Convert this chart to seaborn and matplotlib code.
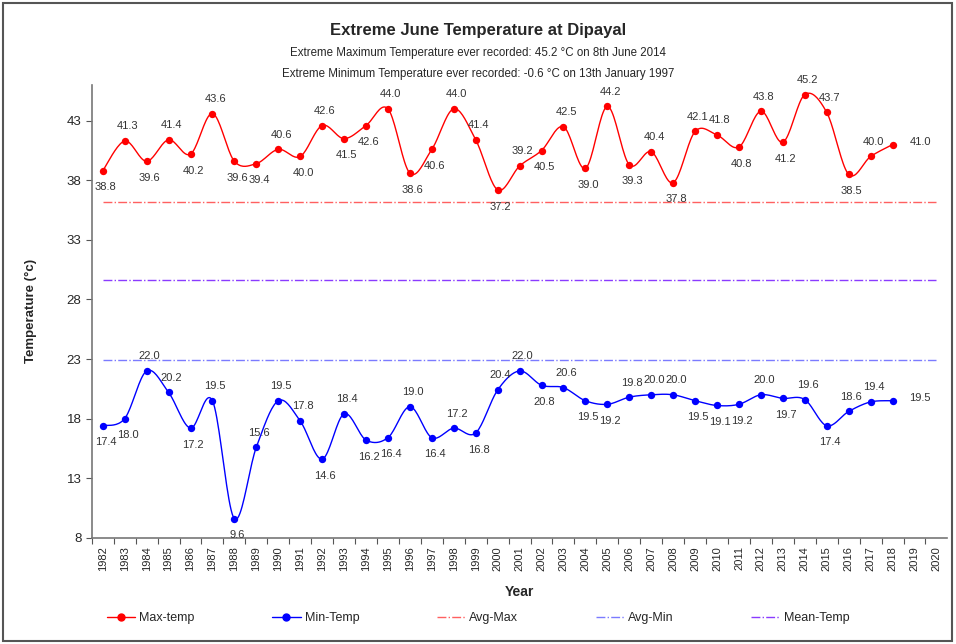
import numpy as np
import matplotlib
matplotlib.use("Agg")
import matplotlib.pyplot as plt
import seaborn as sns
from matplotlib.lines import Line2D
from matplotlib.patches import Rectangle

# Data
years = list(range(1982, 2019))
all_years = list(range(1982, 2021))
max_temp = [38.8, 41.3, 39.6, 41.4, 40.2, 43.6, 39.6, 39.4, 40.6, 40.0,
            42.6, 41.5, 42.6, 44.0, 38.6, 40.6, 44.0, 41.4, 37.2, 39.2,
            40.5, 42.5, 39.0, 44.2, 39.3, 40.4, 37.8, 42.1, 41.8, 40.8,
            43.8, 41.2, 45.2, 43.7, 38.5, 40.0, 41.0]
min_temp = [17.4, 18.0, 22.0, 20.2, 17.2, 19.5, 9.6, 15.6, 19.5, 17.8,
            14.6, 18.4, 16.2, 16.4, 19.0, 16.4, 17.2, 16.8, 20.4, 22.0,
            20.8, 20.6, 19.5, 19.2, 19.8, 20.0, 20.0, 19.5, 19.1, 19.2,
            20.0, 19.7, 19.6, 17.4, 18.6, 19.4, 19.5]
avg_max = 36.2
avg_min = 22.9
mean_temp = 29.6
yticks = [8, 13, 18, 23, 28, 33, 38, 43]

sns.set_theme(style="white")
plt.rcParams["font.family"] = ["Liberation Sans", "DejaVu Sans"]


def smooth(x, y, n=20):
    # Catmull-Rom style curve like Excel's smoothed line
    x = np.asarray(x, float)
    y = np.asarray(y, float)
    px = np.concatenate([[x[0]], x, [x[-1]]])
    py = np.concatenate([[y[0]], y, [y[-1]]])
    xs, ys = [], []
    t = np.linspace(0, 1, n, endpoint=False)
    for i in range(1, len(px) - 2):
        p0, p1, p2, p3 = py[i - 1], py[i], py[i + 1], py[i + 2]
        q0, q1, q2, q3 = px[i - 1], px[i], px[i + 1], px[i + 2]
        c1y, c2y = p1 + (p2 - p0) / 6, p2 - (p3 - p1) / 6
        c1x, c2x = q1 + (q2 - q0) / 6, q2 - (q3 - q1) / 6
        b0, b1, b2, b3 = (1 - t) ** 3, 3 * (1 - t) ** 2 * t, 3 * (1 - t) * t ** 2, t ** 3
        ys.extend(b0 * p1 + b1 * c1y + b2 * c2y + b3 * p2)
        xs.extend(b0 * q1 + b1 * c1x + b2 * c2x + b3 * q2)
    xs.append(x[-1])
    ys.append(y[-1])
    return xs, ys


fig = plt.figure(figsize=(9.56, 6.44), dpi=100)
ax = fig.add_axes([0.096, 0.165, 0.895, 0.703])

# reference lines
ax.plot([all_years[0], all_years[-1]], [avg_max, avg_max], color="#FF6060", lw=1, ls="-.")
ax.plot([all_years[0], all_years[-1]], [avg_min, avg_min], color="#7B7BFF", lw=1, ls="-.")
ax.plot([all_years[0], all_years[-1]], [mean_temp, mean_temp], color="#8A3BFF", lw=1, ls="-.")

for vals, col in [(max_temp, "#FF0000"), (min_temp, "#0000FF")]:
    sx, sy = smooth(years, vals)
    ax.plot(sx, sy, color=col, lw=1)
    sns.scatterplot(x=years, y=vals, color=col, s=28, edgecolor=col, linewidth=0, ax=ax, zorder=3)
    for i, (yr, v) in enumerate(zip(years, vals)):
        if i == len(vals) - 1:
            off = (20, 2)
        else:
            nb = [vals[j] for j in (i - 1, i + 1) if 0 <= j < len(vals)]
            off = (2, 10.5) if v >= np.mean(nb) else (2, -12)
        ax.annotate(f"{v:.1f}", (yr, v), xytext=off,
                    textcoords="offset points", ha="center", va="center",
                    fontsize=8, color="#333333")

ax.set_xlim(all_years[0] - 0.5, all_years[-1] + 0.5)
ax.set_ylim(8, 46)
ax.set_yticks(yticks)
ax.set_xticks(all_years)
ax.set_xticklabels([str(y) for y in all_years], rotation=90, fontsize=8)
ax.set_xticks([y + 0.5 for y in all_years[:-1]] + [all_years[0] - 0.5], minor=True)
ax.tick_params(axis="x", which="major", length=0, pad=6)
ax.tick_params(axis="x", which="minor", length=4, width=0.8, color="#555555", direction="out", bottom=True)
ax.tick_params(axis="y", length=4, width=0.8, color="#555555", direction="out", left=True, labelsize=9.5)
for s in ["top", "right"]:
    ax.spines[s].set_visible(False)
for s in ["left", "bottom"]:
    ax.spines[s].set_color("#777777")
    ax.spines[s].set_linewidth(1.2)
ax.grid(False)

ax.set_xlabel("Year", fontsize=10, fontweight="bold", labelpad=10)
ax.set_ylabel("Temperature (°c)", fontsize=9.5, fontweight="bold", labelpad=21)

fig.text(0.5, 0.953, "Extreme June Temperature at Dipayal", ha="center", va="center",
         fontsize=12, fontweight="bold")
fig.text(0.5, 0.918, "Extreme Maximum Temperature ever recorded: 45.2 °C on 8th June 2014",
         ha="center", va="center", fontsize=8.3)
fig.text(0.5, 0.885, "Extreme Minimum Temperature ever recorded: -0.6 °C on 13th January 1997",
         ha="center", va="center", fontsize=8.3)

handles = [
    Line2D([], [], color="#FF0000", lw=1, marker="o", ms=5),
    Line2D([], [], color="#0000FF", lw=1, marker="o", ms=5),
    Line2D([], [], color="#FF6060", lw=1, ls="-."),
    Line2D([], [], color="#7B7BFF", lw=1, ls="-."),
    Line2D([], [], color="#8A3BFF", lw=1, ls="-."),
]
labels = ["Max-temp", "Min-Temp", "Avg-Max", "Avg-Min", "Mean-Temp"]
fig.legend(handles, labels, loc="center", bbox_to_anchor=(0.5, 0.04), ncol=5,
           frameon=False, handlelength=2.3, handletextpad=0.3, columnspacing=6.2,
           prop={"size": 9})

fig.patches.append(Rectangle((0.003, 0.004), 0.993, 0.992, transform=fig.transFigure,
                             fill=False, edgecolor="#555555", lw=1.5))

fig.savefig("out.png", dpi=100)
